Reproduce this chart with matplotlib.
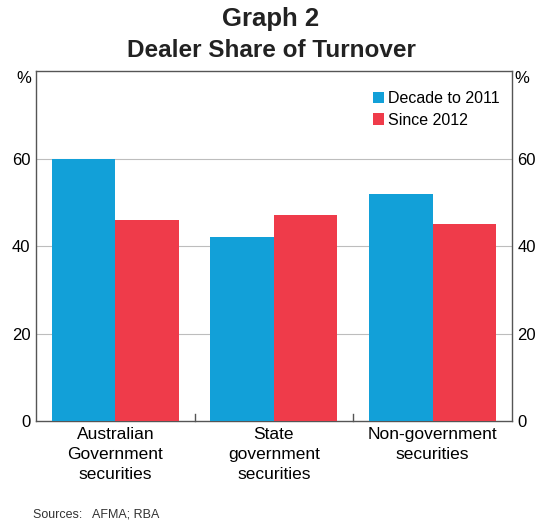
import matplotlib.pyplot as plt
import numpy as np

plt.rcParams['font.family'] = ['Liberation Sans', 'DejaVu Sans']

categories = ['Australian\nGovernment\nsecurities', 'State\ngovernment\nsecurities', 'Non-government\nsecurities']
decade_to_2011 = [60, 42, 52]
since_2012 = [46, 47, 45]
yticks = [0, 20, 40, 60]

BLUE = '#12A0D8'
RED = '#EF3B4A'

fig = plt.figure(figsize=(5.42, 5.23), dpi=100)
ax = fig.add_axes([0.0664, 0.195, 0.878, 0.669])

x = np.arange(len(categories))
w = 0.40
ax.bar(x - w / 2, decade_to_2011, w, color=BLUE, label='Decade to 2011', zorder=3)
ax.bar(x + w / 2, since_2012, w, color=RED, label='Since 2012', zorder=3)

ax.set_xlim(-0.5, len(categories) - 0.5)
ax.set_ylim(0, 80)
ax.set_yticks(yticks)
for y in yticks[1:]:
    ax.axhline(y, color='#bdbdbd', lw=0.8, zorder=1)

ax.tick_params(axis='y', length=0, labelsize=12, pad=4, labelright=True, right=False)
ax.set_xticks(x)
ax.set_xticklabels(categories, fontsize=12.5, linespacing=1.45)
ax.tick_params(axis='x', length=0, pad=4)
# small separators between categories
for b in x[:-1] + 0.5:
    ax.plot([b, b], [0, 1.6], color='#555555', lw=1.0, zorder=4, clip_on=False)

for s in ax.spines.values():
    s.set_color('#555555')
    s.set_linewidth(1.0)

ax.text(-0.009, 0.98, '%', transform=ax.transAxes, ha='right', va='center', fontsize=12)
ax.text(1.006, 0.98, '%', transform=ax.transAxes, ha='left', va='center', fontsize=12)

ax.legend(loc='upper right', bbox_to_anchor=(0.995, 0.97), frameon=False, fontsize=11.5,
          handlelength=0.7, handleheight=0.7, handletextpad=0.25, labelspacing=0.4,
          borderaxespad=0.2)

fig.text(0.5, 0.963, 'Graph 2', ha='center', va='center', fontsize=18.5, fontweight='bold', color='#222222')
fig.text(0.5, 0.903, 'Dealer Share of Turnover', ha='center', va='center', fontsize=17.5, fontweight='bold', color='#222222')
fig.text(0.061, 0.004, 'Sources:   AFMA; RBA', ha='left', va='bottom', fontsize=9, color='#333333')

fig.savefig('out.png', dpi=100)
